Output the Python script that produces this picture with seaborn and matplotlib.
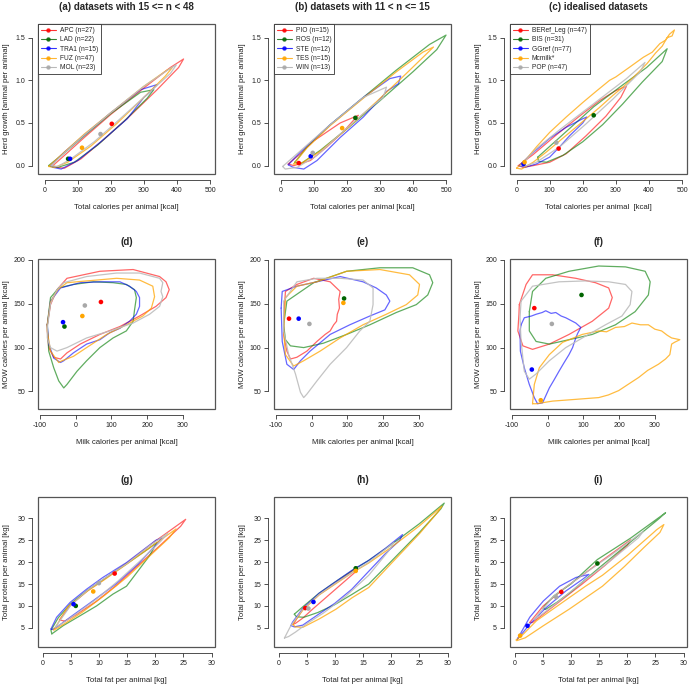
import matplotlib
matplotlib.use("Agg")
import matplotlib.pyplot as plt
from matplotlib.lines import Line2D
import seaborn as sns

# ---------------------------------------------------------------
# Datos (contornos y medias por conjunto)
# orden en cada panel: rojo, verde, azul, naranja, gris
# ---------------------------------------------------------------

# fila 1: calorias totales vs crecimiento del rebaño
apc_hg = [(25, 0.00), (60, 0.12), (120, 0.33), (200, 0.60), (300, 0.91), (380, 1.15), (420, 1.25),
          (405, 1.15), (340, 0.89), (260, 0.59), (180, 0.31), (110, 0.08), (60, -0.03), (35, -0.02)]
lad_hg = [(12, 0.00), (60, 0.15), (120, 0.35), (200, 0.61), (290, 0.86), (330, 0.89),
          (310, 0.79), (240, 0.52), (160, 0.24), (90, 0.04), (40, -0.02), (18, -0.01)]
tra1_hg = [(18, 0.00), (60, 0.16), (120, 0.36), (200, 0.62), (290, 0.89), (340, 0.95), (318, 0.86),
           (300, 0.80), (250, 0.55), (170, 0.28), (100, 0.06), (50, -0.04), (25, -0.02)]
fuz_hg = [(12, -0.01), (60, 0.16), (120, 0.37), (200, 0.62), (300, 0.93), (370, 1.12), (386, 1.15),
          (365, 1.05), (300, 0.80), (220, 0.50), (140, 0.23), (70, 0.04), (30, -0.02)]
mol_hg = [(20, 0.00), (60, 0.15), (120, 0.36), (200, 0.62), (300, 0.93), (380, 1.14), (398, 1.18),
          (380, 1.08), (300, 0.80), (220, 0.52), (150, 0.28), (80, 0.08), (40, -0.01)]
a_mean_x = [203, 71, 77, 113, 169]
a_mean_y = [0.49, 0.08, 0.08, 0.21, 0.37]

pio_hg = [(23, 0.02), (60, 0.14), (100, 0.29), (180, 0.50), (235, 0.59),
          (220, 0.53), (190, 0.40), (140, 0.22), (90, 0.06), (40, 0.00)]
ros_hg = [(43, 0.04), (80, 0.22), (150, 0.48), (250, 0.80), (350, 1.12), (450, 1.42), (500, 1.53),
          (472, 1.36), (400, 1.10), (300, 0.76), (200, 0.43), (120, 0.18), (60, 0.02)]
ste_hg = [(23, 0.01), (60, 0.16), (150, 0.48), (250, 0.80), (330, 1.02), (363, 1.05), (356, 0.96),
          (320, 0.87), (310, 0.82), (250, 0.57), (180, 0.33), (110, 0.06), (70, -0.04), (38, -0.02)]
tes_hg = [(40, 0.02), (80, 0.21), (150, 0.47), (250, 0.79), (350, 1.10), (430, 1.33), (462, 1.39),
          (441, 1.31), (380, 1.08), (290, 0.75), (200, 0.43), (120, 0.17), (60, 0.02)]
win_hg = [(6, -0.01), (50, 0.14), (150, 0.48), (250, 0.80), (320, 0.92),
          (310, 0.80), (250, 0.61), (180, 0.37), (110, 0.12), (50, -0.02), (14, -0.04)]
b_mean_x = [55, 226, 91, 186, 97]
b_mean_y = [0.03, 0.56, 0.11, 0.44, 0.15]

beref_hg = [(5, 0.00), (50, 0.13), (120, 0.36), (190, 0.58), (250, 0.76), (300, 0.88), (332, 0.93),
            (315, 0.80), (270, 0.58), (210, 0.35), (150, 0.14), (100, 0.04), (50, 0.00), (20, -0.02)]
bis_hg = [(64, 0.10), (130, 0.33), (233, 0.69), (322, 0.95), (393, 1.15), (455, 1.37),
          (440, 1.22), (380, 0.98), (320, 0.72), (260, 0.48), (200, 0.28), (140, 0.12), (90, 0.04), (66, 0.05)]
ggref_hg = [(8, 0.00), (40, 0.12), (100, 0.32), (150, 0.45), (200, 0.55), (212, 0.57),
            (200, 0.50), (160, 0.35), (130, 0.22), (100, 0.10), (60, 0.02), (25, -0.02)]
mcmilk_hg = [(0, -0.03), (30, 0.08), (60, 0.22), (100, 0.39), (150, 0.57), (200, 0.74), (240, 0.87),
             (281, 1.00), (300, 1.04), (340, 1.15), (383, 1.27), (410, 1.33), (433, 1.43), (450, 1.47),
             (462, 1.54), (477, 1.59), (470, 1.52), (455, 1.50), (440, 1.40), (420, 1.32), (395, 1.20),
             (370, 1.10), (330, 0.95), (290, 0.82), (250, 0.68), (210, 0.55), (170, 0.42), (130, 0.29),
             (90, 0.16), (50, 0.04), (15, -0.04)]
pop_hg = [(12, 0.00), (60, 0.20), (130, 0.42), (231, 0.72), (332, 1.02), (388, 1.21),
          (374, 1.10), (291, 0.78), (210, 0.49), (130, 0.22), (60, 0.04), (30, 0.00)]
c_mean_x = [127, 233, 21, 24, 120]
c_mean_y = [0.20, 0.59, 0.02, 0.04, 0.27]

# fila 2: calorias de leche vs calorias MOW
apc_mow = [(-79, 126), (-70, 149), (-52, 166), (-24, 179), (68, 187), (161, 189), (235, 181), (253, 175),
           (262, 166), (253, 157), (225, 147), (179, 136), (124, 124), (68, 115), (13, 104), (-24, 94),
           (-42, 87), (-61, 89), (-75, 100), (-79, 119)]
lad_mow = [(-79, 126), (-70, 157), (-47, 168), (-6, 172), (50, 175), (105, 174), (142, 172), (165, 166),
           (170, 157), (165, 143), (161, 130), (142, 119), (105, 111), (68, 100), (31, 85), (4, 73),
           (-24, 58), (-33, 54), (-47, 62), (-61, 77), (-75, 96)]
tra1_mow = [(-79, 126), (-70, 153), (-42, 168), (13, 174), (68, 175), (124, 175), (151, 170), (170, 164),
            (179, 157), (179, 147), (170, 138), (151, 130), (124, 122), (96, 117), (68, 109), (31, 104),
            (-6, 94), (-33, 85), (-42, 83), (-61, 88), (-75, 104)]
fuz_mow = [(-79, 126), (-70, 152), (-50, 166), (-24, 174), (31, 176), (115, 179), (179, 177), (216, 170),
           (221, 158), (212, 145), (188, 136), (142, 126), (87, 115), (31, 100), (-6, 90), (-38, 85),
           (-47, 83), (-70, 96), (-79, 119)]
mol_mow = [(-79, 122), (-70, 150), (-52, 166), (-33, 174), (31, 181), (115, 185), (179, 185), (235, 179),
           (244, 174), (239, 164), (244, 158), (235, 147), (207, 138), (161, 128), (96, 119), (31, 111),
           (-24, 100), (-52, 96), (-70, 100), (-79, 111)]
d_mean_x = [71, -31, -35, 19, 26]
d_mean_y = [152, 124, 129, 136, 148]

pio_mow = [(-78, 134), (-73, 164), (-41, 172), (6, 179), (52, 175), (80, 164), (76, 155), (78, 145),
           (72, 138), (70, 130), (62, 126), (52, 119), (38, 115), (15, 107), (-13, 96), (-41, 89),
           (-59, 87), (-69, 96), (-78, 115)]
ros_mow = [(-78, 126), (-69, 153), (6, 174), (98, 187), (191, 191), (283, 191), (330, 183), (339, 174),
           (325, 160), (293, 149), (237, 140), (163, 126), (98, 115), (33, 105), (-22, 100), (-59, 102),
           (-73, 109)]
ste_mow = [(-85, 145), (-82, 164), (-41, 170), (15, 175), (80, 181), (144, 175), (181, 168), (209, 160),
           (219, 153), (205, 143), (163, 136), (107, 126), (52, 115), (-4, 96), (-31, 85), (-50, 75),
           (-69, 81), (-82, 107)]
tes_mow = [(-78, 119), (-73, 157), (-41, 170), (15, 175), (98, 187), (191, 189), (274, 183), (302, 172),
           (297, 160), (265, 149), (209, 138), (144, 126), (80, 111), (24, 96), (-22, 85), (-50, 79),
           (-73, 92)]
win_mow = [(-78, 119), (-78, 153), (-41, 175), (15, 179), (80, 179), (144, 177), (172, 168), (172, 149),
           (163, 130), (135, 119), (98, 100), (52, 81), (15, 62), (-13, 47), (-22, 43), (-31, 49),
           (-45, 70), (-64, 92)]
e_mean_x = [-63, 91, -36, 89, -6]
e_mean_y = [133, 156, 133, 151, 127]

beref_mow = [(-79, 149), (-60, 172), (-42, 183), (14, 183), (79, 179), (134, 174), (171, 168), (181, 157),
             (171, 145), (125, 130), (60, 115), (5, 104), (-42, 98), (-69, 102), (-83, 119), (-80, 138)]
bis_mow = [(-51, 141), (-42, 164), (-5, 179), (60, 187), (143, 193), (218, 192), (273, 187), (287, 175),
           (282, 160), (245, 141), (190, 126), (125, 115), (60, 109), (5, 104), (-32, 107), (-51, 119)]
ggref_mow = [(-74, 126), (-65, 134), (-45, 136), (-32, 138), (-15, 140), (-5, 142), (10, 139), (23, 140),
             (38, 136), (51, 134), (65, 131), (79, 128), (93, 123), (84, 116), (79, 111), (70, 100),
             (60, 92), (45, 82), (32, 73), (18, 63), (5, 54), (-5, 45), (-14, 37), (-28, 36), (-37, 43),
             (-51, 58), (-65, 77), (-76, 96), (-77, 119)]
mcmilk_mow = [(-42, 36), (-37, 58), (-23, 77), (5, 92), (42, 106), (97, 115), (143, 119), (165, 118),
              (190, 123), (215, 124), (236, 128), (260, 126), (282, 126), (300, 121), (319, 119), (335, 114),
              (347, 111), (370, 109), (355, 106), (347, 104), (342, 92), (330, 87), (310, 81), (280, 74),
              (255, 66), (225, 58), (199, 51), (170, 46), (143, 43), (79, 41), (14, 39), (-32, 36)]
pop_mow = [(-74, 153), (-42, 170), (32, 175), (106, 176), (171, 175), (218, 172), (236, 164), (231, 149),
           (208, 136), (162, 126), (106, 113), (51, 100), (5, 85), (-32, 70), (-51, 64), (-65, 73),
           (-74, 107), (-77, 134)]
f_mean_x = [-37, 95, -44, -19, 12]
f_mean_y = [145, 160, 75, 40, 127]

# fila 3: grasa total vs proteina total
apc_fp = [(3.0, 6.8), (5.0, 10.2), (8.0, 13.5), (11.0, 16.2), (15.0, 19.8), (20.0, 24.8), (25.4, 29.8),
          (24.5, 28.2), (21.0, 24.0), (17.0, 19.3), (13.0, 14.6), (9.5, 11.0), (6.0, 8.0), (4.0, 6.5)]
lad_fp = [(1.65, 3.6), (1.5, 4.4), (2.8, 7.3), (5.0, 10.5), (8.0, 13.6), (11.0, 16.2), (15.0, 19.7),
          (18.5, 22.8), (20.3, 24.5), (19.0, 21.5), (14.9, 14.5), (12.5, 12.7), (9.6, 10.0), (6.6, 7.7),
          (3.7, 5.5)]
tra1_fp = [(1.5, 4.7), (2.5, 7.4), (4.9, 10.8), (7.8, 13.8), (10.7, 16.5), (14.9, 19.9), (20.1, 25.0),
           (21.2, 25.6), (20.0, 23.8), (17.0, 19.6), (13.0, 15.0), (9.0, 11.2), (5.0, 7.5), (2.8, 5.4),
           (1.8, 4.6)]
fuz_fp = [(2.0, 4.5), (4.5, 9.8), (8.0, 13.4), (11.0, 16.0), (15.0, 19.6), (20.0, 24.2), (23.7, 27.6),
          (22.5, 25.6), (19.0, 21.4), (15.0, 16.6), (11.0, 12.4), (7.0, 8.5), (4.0, 6.0), (2.2, 4.6)]
mol_fp = [(2.3, 5.2), (5.0, 10.1), (8.0, 13.6), (11.0, 16.3), (15.0, 19.7), (19.0, 23.8), (22.2, 26.6),
          (21.0, 24.8), (17.5, 20.5), (13.5, 15.8), (9.5, 11.5), (6.0, 8.2), (3.5, 6.0)]
g_mean_x = [12.8, 5.9, 5.5, 9.0, 10.0]
g_mean_y = [17.4, 10.0, 10.4, 13.3, 15.2]

pio_fp = [(2.6, 5.8), (4.3, 9.2), (7.2, 12.6), (10.2, 15.3), (12.5, 17.4), (14.0, 18.9),
          (13.5, 17.6), (11.0, 14.8), (8.5, 12.0), (6.0, 9.2), (4.3, 7.2), (3.0, 6.0)]
ros_fp = [(2.8, 8.1), (4.5, 10.0), (7.2, 12.9), (10.2, 15.6), (13.1, 18.1), (16.0, 20.4), (20.0, 24.0),
          (25.0, 28.8), (29.4, 33.5), (28.8, 32.2), (25.0, 26.8), (20.0, 20.2), (16.0, 15.0), (13.0, 12.6),
          (10.0, 10.3), (7.0, 8.5), (4.5, 7.4), (3.2, 7.5)]
ste_fp = [(2.2, 5.5), (2.5, 6.3), (4.3, 9.4), (7.2, 12.9), (10.2, 15.6), (13.1, 18.2), (16.0, 20.4),
          (19.0, 23.2), (22.0, 26.3), (21.5, 25.0), (19.0, 22.0), (16.0, 17.9), (13.0, 13.8), (10.0, 10.6),
          (7.0, 8.0), (4.3, 5.6), (2.8, 5.2)]
tes_fp = [(2.5, 5.8), (4.3, 9.0), (7.2, 12.5), (10.2, 15.1), (13.1, 17.6), (16.0, 19.8), (20.0, 23.4),
          (25.0, 28.3), (29.0, 32.8), (28.3, 31.5), (25.0, 26.5), (20.0, 19.7), (16.0, 14.2), (13.1, 11.9),
          (10.2, 9.25), (7.2, 7.0), (4.3, 5.1), (3.0, 5.2)]
win_fp = [(1.05, 2.65), (2.2, 5.5), (4.3, 9.2), (7.2, 12.6), (10.0, 15.1), (13.0, 17.6), (16.0, 20.0),
          (20.5, 24.5), (19.5, 22.5), (16.0, 17.0), (12.0, 12.3), (8.0, 8.4), (5.0, 5.9), (3.0, 4.0),
          (1.8, 3.0)]
h_mean_x = [4.75, 13.7, 6.2, 13.7, 5.3]
h_mean_y = [9.5, 18.6, 10.9, 18.0, 9.4]

beref_fp = [(2.7, 6.2), (5.1, 10.0), (8.6, 13.8), (12.0, 17.0), (16.0, 20.8), (20.6, 25.1),
            (20.0, 23.8), (16.0, 19.2), (12.0, 15.0), (8.0, 11.0), (5.0, 8.0), (3.2, 6.2)]
bis_fp = [(5.1, 9.4), (5.3, 9.9), (7.0, 12.3), (10.0, 15.0), (14.7, 20.6), (20.6, 25.5), (26.8, 31.3),
          (25.5, 29.8), (20.0, 24.0), (15.0, 18.7), (10.0, 13.2), (7.5, 10.8), (5.5, 9.2)]
ggref_fp = [(0.5, 2.4), (2.7, 7.4), (5.1, 11.1), (8.0, 14.5), (10.9, 16.5), (13.2, 17.2),
            (12.1, 16.1), (9.1, 13.4), (5.6, 9.6), (2.7, 5.8), (1.3, 3.6)]
mcmilk_fp = [(0.3, 2.2), (1.6, 3.6), (3.9, 6.6), (6.8, 9.25), (12.6, 14.5), (15.6, 17.0), (20.0, 21.5),
             (24.6, 26.7), (25.2, 27.4), (26.5, 28.6), (25.8, 26.8), (23.0, 23.4), (19.5, 19.0),
             (15.6, 14.5), (9.7, 9.25), (5.1, 5.45), (1.9, 2.7), (0.4, 2.05)]
pop_fp = [(3.5, 7.0), (7.0, 12.3), (12.0, 17.0), (17.0, 21.5), (22.8, 27.0),
          (22.0, 25.6), (17.0, 20.3), (12.0, 15.4), (8.0, 11.2), (5.0, 8.2)]
i_mean_x = [8.3, 14.7, 2.3, 1.0, 7.4]
i_mean_y = [13.2, 19.7, 5.45, 3.2, 12.0]

legend_a = ["APC (n=27)", "LAD (n=22)", "TRA1 (n=15)", "FUZ (n=47)", "MOL (n=23)"]
legend_b = ["PIO (n=15)", "ROS (n=12)", "STE (n=12)", "TES (n=15)", "WIN (n=13)"]
legend_c = ["BERef_Leg (n=47)", "BIS (n=31)", "GGref (n=77)", "Mcmilk*", "POP (n=47)"]

titles = ["(a) datasets with 15 <= n < 48", "(b) datasets with 11 < n <= 15", "(c) idealised datasets",
          "(d)", "(e)", "(f)", "(g)", "(h)", "(i)"]

# ---------------------------------------------------------------
# Estilo
# ---------------------------------------------------------------
sns.set_style("white")
plt.rcParams['font.family'] = ['Liberation Sans', 'DejaVu Sans']
plt.rcParams['axes.unicode_minus'] = False

line_colors = ['#ff0000', '#1c8a1c', '#0000ff', '#ffa500', '#bdbdbd']
point_colors = ['#ff0000', '#006400', '#0000ff', '#ffa500', '#a8a8a8']
line_alpha = [0.6, 0.7, 0.6, 0.75, 0.9]

panels = [
    ([apc_hg, lad_hg, tra1_hg, fuz_hg, mol_hg], a_mean_x, a_mean_y, legend_a, 0,
     "Total calories per animal [kcal]"),
    ([pio_hg, ros_hg, ste_hg, tes_hg, win_hg], b_mean_x, b_mean_y, legend_b, 0,
     "Total calories per animal [kcal]"),
    ([beref_hg, bis_hg, ggref_hg, mcmilk_hg, pop_hg], c_mean_x, c_mean_y, legend_c, 0,
     "Total calories per animal  [kcal]"),
    ([apc_mow, lad_mow, tra1_mow, fuz_mow, mol_mow], d_mean_x, d_mean_y, None, 1,
     "Milk calories per animal [kcal]"),
    ([pio_mow, ros_mow, ste_mow, tes_mow, win_mow], e_mean_x, e_mean_y, None, 1,
     "Milk calories per animal [kcal]"),
    ([beref_mow, bis_mow, ggref_mow, mcmilk_mow, pop_mow], f_mean_x, f_mean_y, None, 1,
     "Milk calories per animal [kcal]"),
    ([apc_fp, lad_fp, tra1_fp, fuz_fp, mol_fp], g_mean_x, g_mean_y, None, 2,
     "Total fat per animal [kg]"),
    ([pio_fp, ros_fp, ste_fp, tes_fp, win_fp], h_mean_x, h_mean_y, None, 2,
     "Total fat per animal [kg]"),
    ([beref_fp, bis_fp, ggref_fp, mcmilk_fp, pop_fp], i_mean_x, i_mean_y, None, 2,
     "Total fat per animal [kg]"),
]

# limites y ticks por fila (estilo R)
row_ylabel = ["Herd growth [animal per animal]", "MOW calories per animal [kcal]",
              "Total protein per animal [kg]"]
row_xlim = [(-20, 515), (-105, 390), (-0.8, 30.6)]
row_ylim = [(-0.098, 1.66), (30, 201), (0.6, 34.9)]
row_xticks = [[0, 100, 200, 300, 400, 500], [-100, 0, 100, 200, 300], [0, 5, 10, 15, 20, 25, 30]]
row_yticks = [[0.0, 0.5, 1.0, 1.5], [50, 100, 150, 200], [5, 10, 15, 20, 25, 30]]
row_yticklabels = [["0.0", "0.5", "1.0", "1.5"], ["50", "100", "150", "200"],
                   ["5", "10", "15", "20", "25", "30"]]

fig = plt.figure(figsize=(6.92, 6.87), dpi=100)
FW, FH = 692, 687
col_left = [38, 274, 510]
row_top = [24, 259, 497]
W, H = 177, 150

for k, (outlines, mx, my, leg_labels, row, xlabel) in enumerate(panels):
    col = k % 3
    ax = fig.add_axes([col_left[col] / FW, 1 - (row_top[row] + H) / FH, W / FW, H / FH])

    for outline, lc, la in zip(outlines, line_colors, line_alpha):
        xs = [p[0] for p in outline] + [outline[0][0]]
        ys = [p[1] for p in outline] + [outline[0][1]]
        sns.lineplot(x=xs, y=ys, sort=False, estimator=None, color=lc, lw=0.9,
                     alpha=la, ax=ax)

    sns.scatterplot(x=mx, y=my, hue=list(range(5)), palette=point_colors, s=11,
                    linewidth=0, legend=False, ax=ax, zorder=5)

    ax.set_xlim(*row_xlim[row])
    ax.set_ylim(*row_ylim[row])
    ax.set_xticks(row_xticks[row])
    ax.set_yticks(row_yticks[row])
    ax.set_yticklabels(row_yticklabels[row], rotation=90, va='center')

    # caja + ejes separados como en R
    for s in ['top', 'right']:
        ax.spines[s].set_visible(False)
    for s in ['left', 'bottom']:
        ax.spines[s].set_position(('outward', 4.3))
        ax.spines[s].set_linewidth(0.6)
        ax.spines[s].set_color('#333333')
    ax.spines['bottom'].set_bounds(row_xticks[row][0], row_xticks[row][-1])
    ax.spines['left'].set_bounds(row_yticks[row][0], row_yticks[row][-1])
    ax.patch.set_edgecolor('#555555')
    ax.patch.set_linewidth(0.9)

    ax.tick_params(direction='out', length=3, width=0.6, color='#333333',
                   labelsize=5, pad=2, left=True, bottom=True, labelcolor='#222222')

    ax.set_xlabel(xlabel, fontsize=5.6, va='center', color='#222222')
    ax.xaxis.set_label_coords(0.5, -0.225)
    ax.set_ylabel(row_ylabel[row], fontsize=5.6, va='center', color='#222222')
    ax.yaxis.set_label_coords(-0.18, 0.5)

    ax.set_title(titles[k], fontsize=7, weight='bold', y=1.115, pad=0, va='center')

    if leg_labels is not None:
        handles = [Line2D([0], [0], color=c, lw=0.8, marker='o', markersize=2.2, alpha=0.8)
                   for c in point_colors]
        leg = ax.legend(handles, leg_labels, loc='upper left', bbox_to_anchor=(0, 1),
                        borderaxespad=0, fontsize=4.8, frameon=True, fancybox=False,
                        edgecolor='#333333', handlelength=2.2, handletextpad=0.6,
                        labelspacing=0.35, borderpad=0.45)
        leg.get_frame().set_linewidth(0.6)
        leg.get_frame().set_alpha(None)

fig.savefig('out.png', dpi=100)
